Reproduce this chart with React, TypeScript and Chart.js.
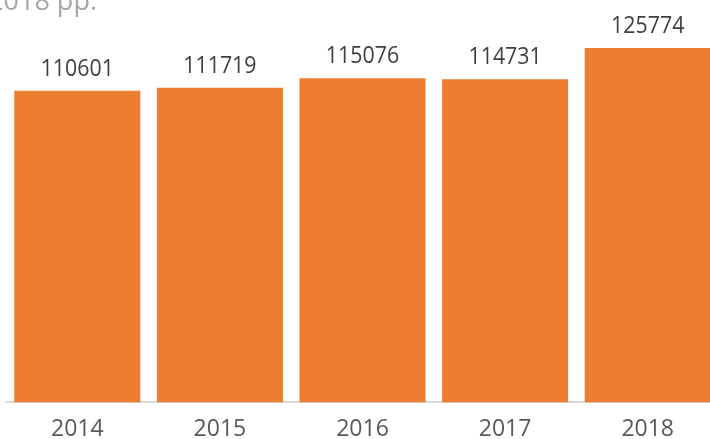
import React, { useEffect, useRef } from "react";
import { Chart, registerables } from "chart.js";

Chart.register(...registerables);

const categories = ["2014", "2015", "2016", "2017", "2018"];
const values = [110601, 111719, 115076, 114731, 125774];
const titleText = "у 2014-2018 рр.";

const FONT = '"Open Sans", "Noto Sans", sans-serif';

const extras = {
  id: "extras",
  afterDatasetsDraw(chart: any) {
    const ctx = chart.ctx;
    const meta = chart.getDatasetMeta(0);
    ctx.save();
    ctx.fillStyle = "#404040";
    ctx.font = `24px ${FONT}`;
    ctx.textAlign = "center";
    ctx.textBaseline = "alphabetic";
    meta.data.forEach((bar: any, i: number) => {
      ctx.save();
      ctx.translate(bar.x, bar.y - 15);
      ctx.scale(0.89, 1);
      ctx.fillText(String(values[i]), 0, 0);
      ctx.restore();
    });
    // cut-off title
    ctx.fillStyle = "#a6a6a6";
    ctx.font = `27px ${FONT}`;
    ctx.textAlign = "right";
    ctx.fillText(titleText, 97, 10);
    ctx.restore();
  },
};

export default function App() {
  const ref = useRef<HTMLCanvasElement>(null);
  useEffect(() => {
    if (!ref.current) return;
    const chart = new Chart(ref.current, {
      type: "bar",
      data: {
        labels: categories,
        datasets: [
          {
            data: values,
            backgroundColor: "#ED7D31",
            borderWidth: 0,
            categoryPercentage: 1,
            barPercentage: 0.884,
          },
        ],
      },
      options: {
        animation: false,
        responsive: false,
        devicePixelRatio: 1,
        layout: { padding: { top: 8, left: 6, right: 1, bottom: 4 } },
        plugins: {
          legend: { display: false },
          tooltip: { enabled: false },
          title: { display: false },
        },
        scales: {
          x: {
            grid: { display: false, drawTicks: false },
            border: { display: true, color: "#d9d9d9", width: 2 },
            ticks: {
              color: "#595959",
              font: { family: FONT, size: 23 },
              padding: 13,
            },
          },
          y: {
            display: false,
            min: 0,
            max: 140000,
          },
        },
      },
      plugins: [extras],
    });
    return () => chart.destroy();
  }, []);
  return (
    <div
      style={{
        position: "absolute",
        left: 0,
        top: 0,
        width: 710,
        height: 439,
        overflow: "hidden",
        background: "#fff",
      }}
    >
      <canvas ref={ref} width={720} height={460} style={{ display: "block" }} />
    </div>
  );
}
